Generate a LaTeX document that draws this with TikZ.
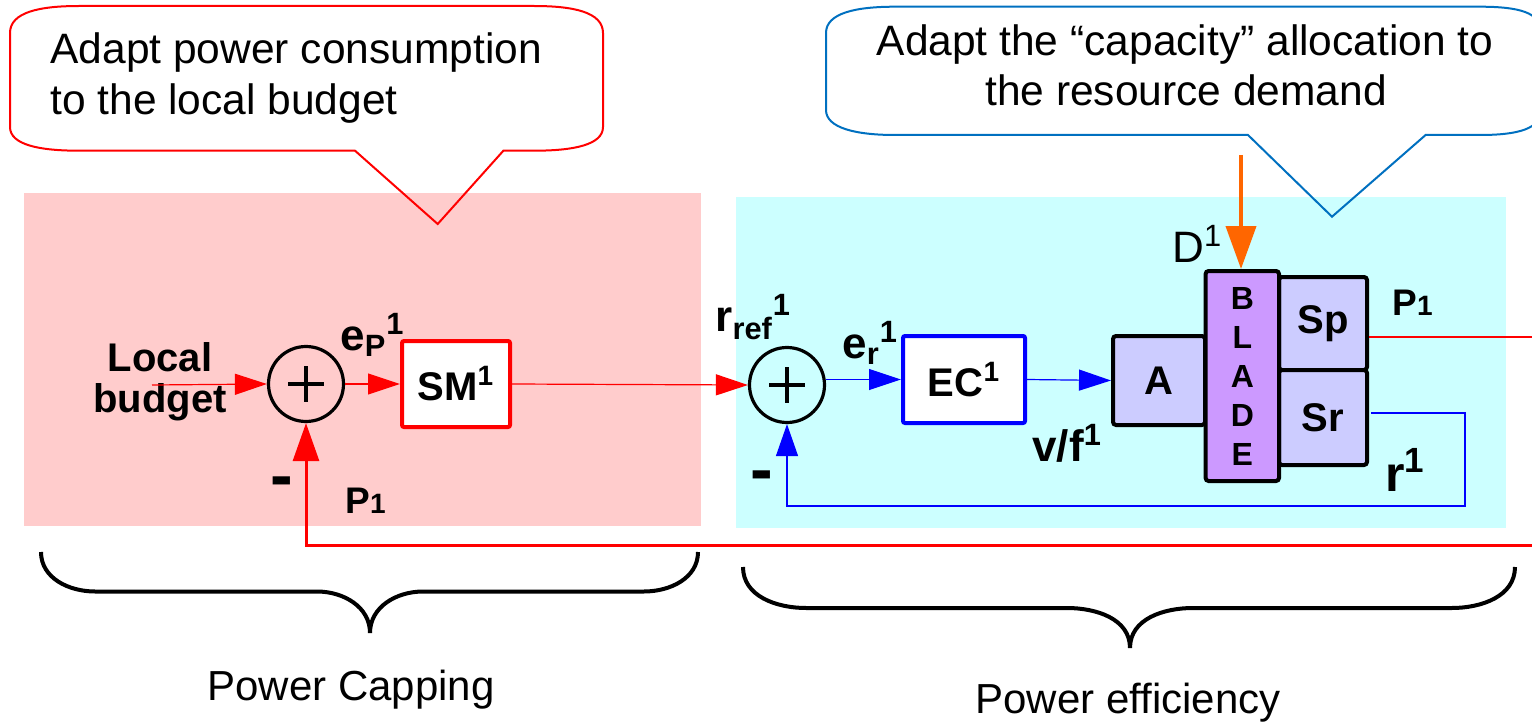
\documentclass[tikz,border=0pt]{standalone}
\usepackage{fontspec}
\setmainfont{Liberation Sans}
\usetikzlibrary{arrows.meta}
\definecolor{pinkbg}{HTML}{FFCCCC}
\definecolor{cyanbg}{HTML}{CCFFFF}
\definecolor{lav}{HTML}{CCCCFF}
\definecolor{purp}{HTML}{CC99FF}
\definecolor{orng}{HTML}{FF6600}
\definecolor{calblue}{RGB}{0,112,192}
\tikzset{
  thinred/.style={draw=red, line width=0.6pt},
  thinblue/.style={draw=blue, line width=0.6pt},
  sumnode/.style={circle, draw=black, line width=1.6pt, minimum size=37.5pt, inner sep=0pt},
  ctrlbox/.style={rectangle, fill=white, line width=2pt, inner sep=0pt, rounded corners=1pt, font=\fontsize{20}{24}\selectfont\bfseries},
  plantbox/.style={rectangle, draw=black, fill=lav, line width=2pt, inner sep=0pt, rounded corners=1.5pt, font=\fontsize{20}{24}\selectfont\bfseries},
  lbl/.style={inner sep=0pt, anchor=base west, font=\fontsize{22}{24}\selectfont\bfseries},
  calltext/.style={inner sep=0pt, font=\fontsize{21.25}{25}\selectfont},
  bracestyle/.style={line width=2pt, draw=black},
  plusbar/.style={line width=2pt, draw=black},
}
\begin{document}
\begin{tikzpicture}[x=0.5pt,y=-0.5pt]
\useasboundingbox (0,0) rectangle (1532,722);
\clip (0,0) rectangle (1532,722);
% backgrounds
\fill[pinkbg] (24,193) rectangle (701,526);
\fill[cyanbg] (736,197) rectangle (1506,528);
% callouts
\draw[red, line width=1pt] (355,150.7) -- (437.7,224) -- (503.4,150.7) -- (534,150.7)
  .. controls (573,150.7) and (603,145) .. (603,127) -- (603,33)
  .. controls (603,12) and (573,6) .. (534,6) -- (79,6)
  .. controls (40,6) and (10,12) .. (10,33) -- (10,127)
  .. controls (10,145) and (40,150.7) .. (79,150.7) -- cycle;
\node[calltext, anchor=base west] (c1a) at (50,64) {Adapt power consumption};
\node[calltext, anchor=base west] (c1b) at (50,115) {to the local budget};
\draw[calblue, line width=1pt] (1248,135) -- (1332,216.7) -- (1425.6,135) -- (1480,135)
  .. controls (1520,135) and (1540,128) .. (1540,112) -- (1540,30)
  .. controls (1540,13) and (1520,6.7) .. (1480,6.7) -- (895,6.7)
  .. controls (856,6.7) and (826,13) .. (826,33) -- (826,110)
  .. controls (826,128) and (856,135) .. (895,135) -- cycle;
\node[calltext, anchor=base] (c2a) at (1185,56) {Adapt the “capacity” allocation to};
\node[calltext, anchor=base] (c2b) at (1186,106) {the resource demand};
% nodes
\node[sumnode] (s1) at (306,384) {};
\node[sumnode] (s2) at (787,385) {};
\foreach \s in {s1,s2}{
  \draw[plusbar] (\s.center) ++(-18,0) -- ++(36,0);
  \draw[plusbar] (\s.center) ++(0,-18) -- ++(0,36);
}
\node[ctrlbox, draw=red, minimum width=54pt, minimum height=43pt] (sm) at (456,384) {SM\textsuperscript{1}};
\node[ctrlbox, draw=blue, minimum width=61pt, minimum height=43.5pt] (ec) at (964,379.5) {EC\textsuperscript{1}};
\node[plantbox, minimum width=46pt, minimum height=44.5pt] (a) at (1159,380.5) {A};
\node[plantbox, minimum width=44pt, minimum height=46.5pt] (sp) at (1323,323.5) {Sp};
\node[plantbox, minimum width=44pt, minimum height=47.5pt] (sr) at (1323,417.5) {Sr};
\node[plantbox, fill=purp, minimum width=36.7pt, minimum height=105pt, align=center,
  font=\fontsize{16}{19.5}\selectfont\bfseries] (blade) at (1242.3,376) {B\\L\\A\\D\\E};
% input
\coordinate (lbin) at (152,385);
\node[font=\fontsize{20}{20.5}\selectfont\bfseries, align=center, inner sep=0pt] (lb) at (160,382) {Local\\budget};
% connectors
\draw[thinred, -{Triangle[length=16pt,width=10.5pt]}] (lbin) -- (s1.west);
\draw[thinred, -{Triangle[length=16pt,width=10.5pt]}] (s1.east) -- (sm.west);
\draw[thinred, -{Triangle[length=16pt,width=10.5pt]}] (sm.east) -- (s2.west);
\draw[thinblue, -{Triangle[length=16pt,width=10.5pt]}] (s2.east |- ec.west) -- (ec.west);
\draw[thinblue, -{Triangle[length=16pt,width=10.5pt]}] (ec.east) -- (a.west);
\coordinate (pout) at (1540,337);
\draw[thinred] (sp.east |- pout) -- (pout);
\coordinate (bfc) at (1465,506);
\coordinate (bfs) at (1371,413);
\draw[thinblue, -{Triangle[length=16pt,width=11pt]}] (bfs) -| (bfc) -| (s2.south);
\coordinate (fbr) at (1540,545);
\draw[red, line width=1.5pt, -{Triangle[length=19pt,width=13pt]}] (fbr) -| (s1.south);
\coordinate (dtop) at (1241,155);
\draw[orng, line width=2pt, -{Triangle[length=21.5pt,width=15pt]}] (dtop) -- (blade.north -| dtop);
% labels
\node[lbl] (epl) at (340,350) {e\textsubscript{P}\textsuperscript{1}};
\node[lbl] (rrefl) at (715,331) {r\textsubscript{ref}\textsuperscript{1}};
\node[lbl] (erl) at (842,358) {e\textsubscript{r}\textsuperscript{1}};
\node[lbl] (vfl) at (1032,461) {v/f\textsuperscript{1}};
\node[lbl, font=\fontsize{22}{24}\selectfont] (dl) at (1172,262) {D\textsuperscript{1}};
\node[lbl, font=\fontsize{18.5}{22}\selectfont\bfseries] (p1t) at (1392,315) {P{\fontsize{14}{14}\selectfont 1}};
\node[lbl, font=\fontsize{18.5}{22}\selectfont\bfseries] (p1b) at (345,513) {P{\fontsize{14}{14}\selectfont 1}};
\node[lbl, font=\fontsize{25}{28}\selectfont\bfseries] (rl) at (1385,491) {r\textsuperscript{1}};
\node[inner sep=0pt, font=\fontsize{34}{34}\selectfont\bfseries] (m1) at (282,488) {-};
\node[inner sep=0pt, font=\fontsize{34}{34}\selectfont\bfseries] (m2) at (762,482) {-};
% braces
\draw[bracestyle] (41,552) to[out=-90,in=180] (95,591.5) -- (317,591.5)
  to[out=0,in=90] (370,633) to[out=90,in=180] (423,591.5) -- (644,591.5)
  to[out=0,in=-90] (698,552);
\draw[bracestyle] (743,567) to[out=-90,in=180] (806,608) -- (1067,608)
  to[out=0,in=90] (1130,648) to[out=90,in=180] (1193,608) -- (1452,608)
  to[out=0,in=-90] (1515,567);
\node[inner sep=0pt, anchor=base, font=\fontsize{21}{24}\selectfont] (pc) at (351,700) {Power Capping};
\node[inner sep=0pt, anchor=base, font=\fontsize{21}{24}\selectfont] (pe) at (1128,713) {Power efficiency};
\end{tikzpicture}
\end{document}
